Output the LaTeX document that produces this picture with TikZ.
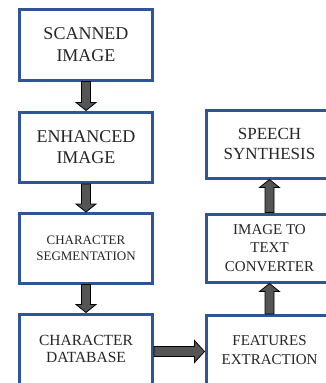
\documentclass[tikz,border=0pt]{standalone}
\usepackage{fontspec}
\setmainfont{Liberation Serif}
\usetikzlibrary{calc}
\definecolor{boxblue}{HTML}{2F5597}
\definecolor{arrowgray}{HTML}{555555}
\tikzset{
  stage/.style={draw=boxblue, line width=3pt, fill=white, align=center,
    inner sep=0pt, text=black!85},
  fat/.style={draw=black, line width=0.8pt, fill=arrowgray, line join=miter},
}
% block arrow from #1 to #2; #3 shaft half-width, #4 head half-width, #5 head length
\newcommand\fatarrow[5]{%
  \coordinate (fa-h) at ($(#2)!#5!(#1)$);
  \draw[fat] ($(#1)!#3!90:(#2)$) -- ($(fa-h)!#3!90:(#2)$) -- ($(fa-h)!#4!90:(#2)$)
    -- (#2) -- ($(fa-h)!#4!-90:(#2)$) -- ($(fa-h)!#3!-90:(#2)$)
    -- ($(#1)!#3!-90:(#2)$) -- cycle;}
\begin{document}
\begin{tikzpicture}[x=1pt, y=-1pt]
\useasboundingbox (0,0) rectangle (326,383);
\clip (0,0) rectangle (326,383);
% left column
\node[stage, minimum width=133pt, minimum height=70.5pt,
  font=\fontsize{18}{22}\selectfont] (scan) at (86,44.75) {SCANNED\\IMAGE};
\node[stage, minimum width=133pt, minimum height=70.5pt,
  font=\fontsize{18}{21}\selectfont] (enh) at (86,147.25) {ENHANCED\\IMAGE};
\node[stage, minimum width=133pt, minimum height=69.5pt,
  font=\fontsize{13}{16}\selectfont] (seg) at (86,248.25) {CHARACTER\\SEGMENTATION};
\node[stage, minimum width=133pt, minimum height=70pt,
  font=\fontsize{15.5}{17.5}\selectfont] (db) at (86,349) {CHARACTER\\DATABASE};
% right column
\node[stage, minimum width=127pt, minimum height=67.5pt,
  font=\fontsize{17}{20}\selectfont] (speech) at (269.5,144.25) {SPEECH\\SYNTHESIS};
\node[stage, minimum width=127pt, minimum height=68pt,
  font=\fontsize{15}{18.5}\selectfont] (itt) at (269.5,248) {IMAGE TO\\TEXT\\CONVERTER};
\node[stage, minimum width=127pt, minimum height=68.5pt,
  font=\fontsize{15}{19}\selectfont] (feat) at (269.5,349.75) {FEATURES\\EXTRACTION};
% connectors
\fatarrow{scan.south}{enh.north}{4.5pt}{10pt}{8pt}
\fatarrow{enh.south}{seg.north}{4.5pt}{10pt}{8pt}
\fatarrow{seg.south}{db.north}{4.5pt}{10pt}{8pt}
\coordinate (h1) at ($(db.east)+(0,2.5)$);
\coordinate (h2) at (feat.west |- h1);
\fatarrow{h1}{h2}{5pt}{11pt}{10pt}
\fatarrow{feat.north}{itt.south}{4.5pt}{10pt}{8pt}
\fatarrow{itt.north}{speech.south}{4.5pt}{10pt}{8pt}
\end{tikzpicture}
\end{document}
